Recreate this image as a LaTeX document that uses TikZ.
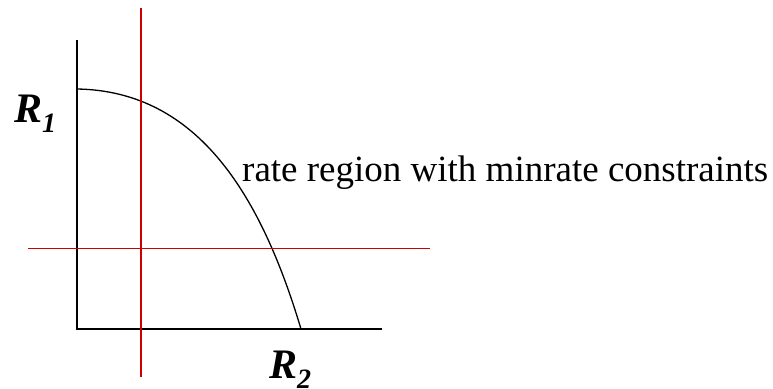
\documentclass[tikz,border=0pt]{standalone}
\usepackage{fontspec}
\setmainfont{Liberation Serif}
\usetikzlibrary{positioning}
\definecolor{minred}{RGB}{204,0,0}
\tikzset{%
	axis/.style = { line width=2pt, black },
	bound/.style = { line width=1.8pt, minred },
	region/.style = { line width=1.3pt, black },
	ratelabel/.style = { inner sep=0pt, anchor=base west, font=\fontsize{42}{42}\selectfont\bfseries\itshape },
	note/.style = { inner sep=0pt, anchor=base west, font=\fontsize{37}{37}\selectfont }
}
\newcommand{\ratesub}[1]{\raisebox{-10pt}{\fontsize{28}{28}\selectfont #1}}

\begin{document}
\begin{tikzpicture}[x=1pt, y=1pt]
	\useasboundingbox (0,0) rectangle (773,388);
	% axes
	\coordinate (O) at (77,59);
	\coordinate (ytop) at (77,348);
	\coordinate (xend) at (382,59);
	\draw[axis] (ytop) -- (O) -- (xend);
	% rate region boundary
	\coordinate (top) at (77,299);
	\coordinate (foot) at (301,59);
	\draw[region] (top) .. controls (200,297) and (262,189) .. (foot);
	% minrate constraints
	\coordinate (vlow) at (141,11);
	\coordinate (vhigh) at (141,380);
	\coordinate (hleft) at (28,139.5);
	\coordinate (hright) at (430,139.5);
	\draw[bound] (vlow) -- (vhigh);
	\draw[bound] (hleft) -- (hright);
	% labels
	\node[ratelabel] (r1) at (14,265) {R\ratesub{1}};
	\node[ratelabel] (r2) at (269,10) {R\ratesub{2}};
	\node[note] (note) at (242,206) {rate region with minrate constraints};
\end{tikzpicture}
\end{document}
